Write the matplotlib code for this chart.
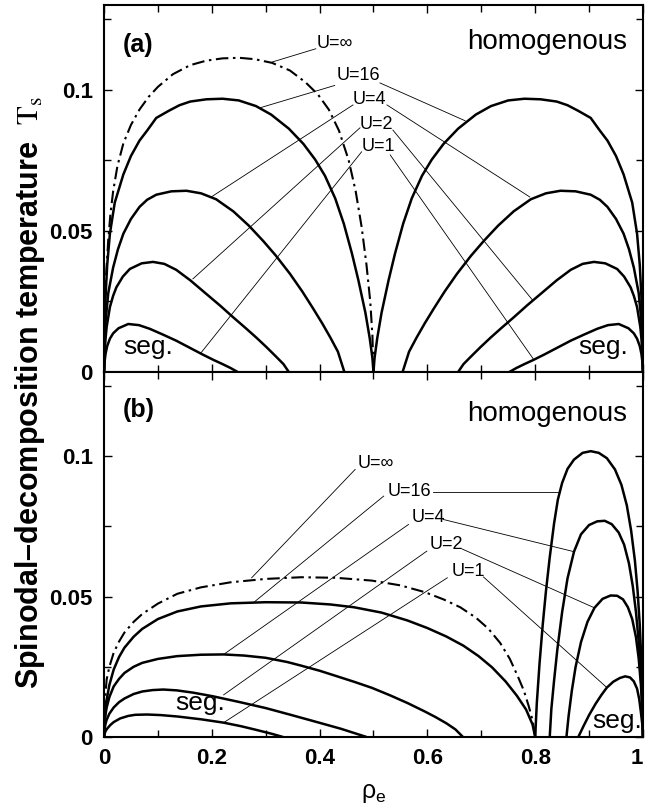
import matplotlib
matplotlib.use("Agg")
import matplotlib.pyplot as plt
from matplotlib.ticker import FixedLocator, FixedFormatter

plt.rcParams['font.family'] = ['Liberation Sans', 'DejaVu Sans']
plt.rcParams['mathtext.fontset'] = 'stix'

# ---------------- data: panel (a) ----------------
a_uinf_x = [0, 0.001, 0.003, 0.008, 0.012, 0.017, 0.025, 0.036, 0.05, 0.066, 0.083, 0.1, 0.128, 0.16, 0.19, 0.22, 0.251,
            0.28, 0.312, 0.345, 0.374, 0.397, 0.417, 0.436, 0.454, 0.467, 0.478, 0.487, 0.494, 0.498, 0.5]
a_uinf_y = [0, 0.018, 0.031, 0.047, 0.056, 0.064, 0.073, 0.081, 0.0875, 0.093, 0.0975, 0.101, 0.1055, 0.1087, 0.1103, 0.1111, 0.1113,
            0.1108, 0.1095, 0.1068, 0.1026, 0.0983, 0.093, 0.0855, 0.075, 0.064, 0.0514, 0.038, 0.025, 0.013, 0]

a_u16_lx = [0, 0.001, 0.003, 0.006, 0.011, 0.02, 0.036, 0.05, 0.066, 0.08, 0.097, 0.12, 0.14, 0.16, 0.19, 0.22, 0.25,
            0.282, 0.31, 0.343, 0.37, 0.392, 0.41, 0.429, 0.445, 0.46, 0.472, 0.485, 0.493, 0.498, 0.5]
a_u16_ly = [0, 0.016, 0.027, 0.038, 0.049, 0.06, 0.070, 0.0765, 0.082, 0.0855, 0.090, 0.0925, 0.0945, 0.0958, 0.0966, 0.0968, 0.0962,
            0.0942, 0.0912, 0.0862, 0.0808, 0.0752, 0.0695, 0.0615, 0.0525, 0.042, 0.0325, 0.021, 0.012, 0.005, 0]
a_u16_rx = [0.5, 0.502, 0.507, 0.515, 0.528, 0.54, 0.555, 0.571, 0.59, 0.608, 0.63, 0.657, 0.69, 0.718, 0.75, 0.78,
            0.81, 0.84, 0.86, 0.88, 0.903, 0.92, 0.934, 0.95, 0.964, 0.98, 0.989, 0.994, 0.997, 0.999, 1.0]
a_u16_ry = [0, 0.005, 0.012, 0.021, 0.0325, 0.042, 0.0525, 0.0615, 0.0695, 0.0752, 0.0808, 0.0862, 0.0912, 0.0942, 0.0962, 0.0968,
            0.0966, 0.0958, 0.0945, 0.0925, 0.090, 0.0855, 0.082, 0.0765, 0.070, 0.06, 0.049, 0.038, 0.027, 0.016, 0]

a_u4_lx = [0, 0.001, 0.003, 0.008, 0.017, 0.026, 0.036, 0.05, 0.066, 0.08, 0.097, 0.125, 0.153, 0.18, 0.208, 0.24,
           0.269, 0.295, 0.319, 0.345, 0.368, 0.388, 0.405, 0.42, 0.434, 0.446]
a_u4_ly = [0, 0.010, 0.018, 0.028, 0.037, 0.0435, 0.049, 0.0542, 0.0585, 0.061, 0.0628, 0.064, 0.0642, 0.0633, 0.0612, 0.0569,
           0.0518, 0.0465, 0.0412, 0.0348, 0.0285, 0.0225, 0.0172, 0.0122, 0.0072, 0]
a_u4_rx = [0.554, 0.566, 0.58, 0.595, 0.612, 0.632, 0.655, 0.681, 0.705, 0.731, 0.76, 0.792, 0.82, 0.847, 0.875, 0.903,
           0.92, 0.934, 0.95, 0.964, 0.974, 0.983, 0.992, 0.997, 0.999, 1.0]
a_u4_ry = [0, 0.0072, 0.0122, 0.0172, 0.0225, 0.0285, 0.0348, 0.0412, 0.0465, 0.0518, 0.0569, 0.0612, 0.0633, 0.0642, 0.064, 0.0628,
           0.061, 0.0585, 0.0542, 0.049, 0.0435, 0.037, 0.028, 0.018, 0.010, 0]

a_u2_lx = [0, 0.001, 0.003, 0.005, 0.011, 0.017, 0.023, 0.035, 0.048, 0.07, 0.091, 0.112, 0.134, 0.16, 0.189, 0.215,
           0.239, 0.262, 0.282, 0.301, 0.319, 0.333, 0.343]
a_u2_ly = [0, 0.0065, 0.012, 0.016, 0.023, 0.027, 0.030, 0.0338, 0.0365, 0.0385, 0.039, 0.0383, 0.0362, 0.0325, 0.0278, 0.0236,
           0.0195, 0.0157, 0.0123, 0.0089, 0.0055, 0.0028, 0]
a_u2_rx = [0.657, 0.667, 0.681, 0.699, 0.718, 0.738, 0.761, 0.785, 0.811, 0.84, 0.866, 0.888, 0.909, 0.93, 0.952, 0.965,
           0.977, 0.983, 0.989, 0.995, 0.997, 0.999, 1.0]
a_u2_ry = [0, 0.0028, 0.0055, 0.0089, 0.0123, 0.0157, 0.0195, 0.0236, 0.0278, 0.0325, 0.0362, 0.0383, 0.039, 0.0385, 0.0365, 0.0338,
           0.030, 0.027, 0.023, 0.016, 0.012, 0.0065, 0]

a_u1_lx = [0, 0.001, 0.003, 0.006, 0.011, 0.017, 0.027, 0.045, 0.065, 0.085, 0.11, 0.134, 0.16, 0.183, 0.203, 0.22, 0.235, 0.248]
a_u1_ly = [0, 0.0035, 0.0065, 0.0092, 0.0118, 0.0137, 0.0155, 0.017, 0.0166, 0.0153, 0.0132, 0.0111, 0.0085, 0.0062, 0.0043, 0.0028, 0.0014, 0]
a_u1_rx = [0.752, 0.765, 0.78, 0.797, 0.817, 0.84, 0.866, 0.89, 0.915, 0.935, 0.955, 0.973, 0.983, 0.989, 0.994, 0.997, 0.999, 1.0]
a_u1_ry = [0, 0.0014, 0.0028, 0.0043, 0.0062, 0.0085, 0.0111, 0.0132, 0.0153, 0.0166, 0.017, 0.0155, 0.0137, 0.0118, 0.0092, 0.0065, 0.0035, 0]

# ---------------- data: panel (b) ----------------
b_uinf_x = [0, 0.001, 0.003, 0.005, 0.01, 0.018, 0.028, 0.038, 0.055, 0.071, 0.1, 0.136, 0.18, 0.235, 0.3, 0.366, 0.43,
            0.497, 0.55, 0.595, 0.63, 0.661, 0.69, 0.713, 0.735, 0.753, 0.768, 0.779, 0.788, 0.795, 0.8]
b_uinf_y = [0, 0.009, 0.016, 0.0205, 0.025, 0.030, 0.034, 0.0372, 0.041, 0.0438, 0.0475, 0.051, 0.0533, 0.0551, 0.0563, 0.0569, 0.0567,
            0.0557, 0.054, 0.0516, 0.049, 0.0462, 0.0425, 0.0386, 0.0335, 0.0278, 0.0215, 0.0165, 0.011, 0.006, 0]

b_u16_lx = [0, 0.001, 0.003, 0.005, 0.01, 0.018, 0.028, 0.038, 0.055, 0.071, 0.1, 0.136, 0.18, 0.235, 0.3, 0.366, 0.42,
            0.464, 0.515, 0.563, 0.6, 0.635, 0.667, 0.695, 0.72, 0.745, 0.766, 0.783, 0.795, 0.8]
b_u16_ly = [0, 0.0055, 0.0105, 0.0133, 0.0185, 0.024, 0.0285, 0.0318, 0.0357, 0.0385, 0.042, 0.0447, 0.0465, 0.0476, 0.048, 0.0479, 0.0472,
            0.0462, 0.0443, 0.0415, 0.0388, 0.0358, 0.0325, 0.0288, 0.0248, 0.0198, 0.0147, 0.0098, 0.0045, 0]
b_u16_rx = [0.8, 0.803, 0.808, 0.814, 0.82, 0.827, 0.835, 0.842, 0.85, 0.86, 0.872, 0.888, 0.903, 0.918, 0.933, 0.948,
            0.96, 0.97, 0.978, 0.985, 0.99, 0.994, 0.997, 0.999, 1.0]
b_u16_ry = [0, 0.012, 0.026, 0.040, 0.052, 0.064, 0.076, 0.0845, 0.0905, 0.0955, 0.0988, 0.1012, 0.1018, 0.1012, 0.0993, 0.0953,
            0.0898, 0.0825, 0.0735, 0.0628, 0.052, 0.040, 0.027, 0.014, 0]

b_u4_lx = [0, 0.001, 0.003, 0.005, 0.01, 0.018, 0.028, 0.038, 0.055, 0.071, 0.1, 0.136, 0.18, 0.222, 0.26, 0.3, 0.34,
           0.366, 0.4, 0.431, 0.465, 0.497, 0.53, 0.563, 0.595, 0.615, 0.635, 0.652, 0.666]
b_u4_ly = [0, 0.0045, 0.0082, 0.0105, 0.0142, 0.018, 0.0207, 0.0228, 0.025, 0.0264, 0.0278, 0.0288, 0.0293, 0.0294, 0.029, 0.0282, 0.0267,
           0.0254, 0.0236, 0.0217, 0.0196, 0.0175, 0.0149, 0.0121, 0.0091, 0.0071, 0.0049, 0.0027, 0]
b_u4_rx = [0.827, 0.83, 0.835, 0.841, 0.85, 0.86, 0.872, 0.885, 0.9, 0.915, 0.929, 0.942, 0.955, 0.965, 0.974, 0.981,
           0.987, 0.992, 0.996, 0.999, 1.0]
b_u4_ry = [0, 0.010, 0.020, 0.031, 0.0445, 0.0565, 0.066, 0.0722, 0.0755, 0.0768, 0.077, 0.0758, 0.0728, 0.0685, 0.0618, 0.0538,
           0.0445, 0.034, 0.022, 0.010, 0]

b_u2_lx = [0, 0.001, 0.003, 0.005, 0.01, 0.018, 0.028, 0.038, 0.055, 0.071, 0.09, 0.11, 0.135, 0.165, 0.202, 0.25, 0.3,
           0.35, 0.399, 0.44, 0.487]
b_u2_ly = [0, 0.0028, 0.0048, 0.0061, 0.0083, 0.0105, 0.0124, 0.0137, 0.0153, 0.0162, 0.0167, 0.0169, 0.0166, 0.0158, 0.0145, 0.0125, 0.0103,
           0.0077, 0.0051, 0.0029, 0]
b_u2_rx = [0.858, 0.862, 0.868, 0.875, 0.885, 0.897, 0.91, 0.925, 0.94, 0.952, 0.963, 0.972, 0.98, 0.987, 0.992, 0.996, 0.999, 1.0]
b_u2_ry = [0, 0.0075, 0.0165, 0.025, 0.0338, 0.041, 0.046, 0.0492, 0.0504, 0.0503, 0.049, 0.0462, 0.042, 0.0355, 0.028, 0.019, 0.009, 0]

b_u1_lx = [0, 0.001, 0.003, 0.006, 0.012, 0.018, 0.03, 0.045, 0.058, 0.08, 0.105, 0.136, 0.18, 0.222, 0.255, 0.281, 0.31, 0.332]
b_u1_ly = [0, 0.0011, 0.0021, 0.003, 0.0043, 0.0053, 0.0066, 0.0075, 0.0079, 0.008, 0.0078, 0.0073, 0.0063, 0.0051, 0.0038, 0.0026, 0.0012, 0]
b_u1_rx = [0.88, 0.89, 0.9, 0.912, 0.923, 0.933, 0.945, 0.957, 0.967, 0.976, 0.983, 0.989, 0.993, 0.996, 0.999, 1.0]
b_u1_ry = [0, 0.004, 0.0078, 0.0118, 0.015, 0.0176, 0.0197, 0.021, 0.0216, 0.0212, 0.0198, 0.0172, 0.0135, 0.009, 0.004, 0]

# curve labels and leader lines
labels_a = ["U=\u221e", "U=16", "U=4", "U=2", "U=1"]
labels_a_x = [0.395, 0.432, 0.462, 0.475, 0.478]
labels_a_y = [0.1164, 0.1050, 0.0965, 0.0877, 0.0800]
leaders_a = [
    [(0.393, 0.1145), (0.312, 0.1098)],
    [(0.428, 0.1015), (0.288, 0.0935)], [(0.512, 0.1024), (0.67, 0.0890)],
    [(0.462, 0.0946), (0.199, 0.0620)], [(0.525, 0.0946), (0.79, 0.0620)],
    [(0.475, 0.0865), (0.165, 0.0330)], [(0.536, 0.0857), (0.795, 0.0255)],
    [(0.478, 0.0780), (0.180, 0.0068)], [(0.531, 0.0769), (0.797, 0.0045)],
]

labels_b = ["U=\u221e", "U=16", "U=4", "U=2", "U=1"]
labels_b_x = [0.470, 0.527, 0.571, 0.605, 0.645]
labels_b_y = [0.0975, 0.0874, 0.0780, 0.0684, 0.0589]
leaders_b = [
    [(0.466, 0.0953), (0.274, 0.0567)],
    [(0.519, 0.0858), (0.277, 0.0478)], [(0.610, 0.0874), (0.846, 0.0874)],
    [(0.565, 0.0757), (0.222, 0.0294)], [(0.629, 0.0775), (0.872, 0.0660)],
    [(0.599, 0.0662), (0.222, 0.0150)], [(0.664, 0.0670), (0.910, 0.0460)],
    [(0.637, 0.0567), (0.222, 0.0051)], [(0.704, 0.0570), (0.933, 0.0176)],
]

xticks = [0, 0.2, 0.4, 0.6, 0.8, 1.0]
xtick_labels = ["0", "0.2", "0.4", "0.6", "0.8", "1"]
yticks = [0, 0.05, 0.1]
ytick_labels = ["0", "0.05", "0.1"]

# ---------------- figure ----------------
fig = plt.figure(figsize=(6.47, 8.08), dpi=100)
ax1 = fig.add_axes([0.1607, 0.5396, 0.8331, 0.4542])
ax2 = fig.add_axes([0.1607, 0.0879, 0.8331, 0.4517])

LW = 1.8
DASH = dict(color='black', lw=1.5, dashes=(6.0, 2.2, 1.2, 2.2))
THIN = dict(color='black', lw=0.6)

def style(ax, show_x):
    ax.set_xlim(0, 1)
    ax.set_ylim(0, 0.13)
    ax.xaxis.set_major_locator(FixedLocator(xticks))
    ax.xaxis.set_minor_locator(FixedLocator([0.1, 0.3, 0.5, 0.7, 0.9]))
    ax.yaxis.set_major_locator(FixedLocator(yticks))
    ax.yaxis.set_minor_locator(FixedLocator([0.025, 0.075, 0.125]))
    ax.yaxis.set_major_formatter(FixedFormatter(ytick_labels))
    if show_x:
        ax.xaxis.set_major_formatter(FixedFormatter(xtick_labels))
    else:
        ax.set_xticklabels([])
    ax.tick_params(which='both', direction='in', top=True, right=True,
                   width=1.0, labelsize=16, pad=8)
    ax.tick_params(which='major', length=6)
    ax.tick_params(which='minor', length=5)
    for lab in ax.get_xticklabels() + ax.get_yticklabels():
        lab.set_fontweight('bold')
    if show_x:
        ax.get_xticklabels()[-1].set_horizontalalignment('right')
    for s in ax.spines.values():
        s.set_linewidth(1.5)

def draw(ax, dash, solids, leaders, labels, lx, ly):
    ax.plot(dash[0], dash[1], **DASH)
    for xs, ys in solids:
        ax.plot(xs, ys, color='black', lw=LW, solid_joinstyle='round', solid_capstyle='round')
    for seg in leaders:
        ax.plot([seg[0][0], seg[1][0]], [seg[0][1], seg[1][1]], **THIN)
    for t, x, y in zip(labels, lx, ly):
        ax.text(x, y, t, fontsize=13, ha='left', va='center')

draw(ax1, (a_uinf_x, a_uinf_y),
     [(a_u16_lx, a_u16_ly), (a_u16_rx, a_u16_ry), (a_u4_lx, a_u4_ly), (a_u4_rx, a_u4_ry),
      (a_u2_lx, a_u2_ly), (a_u2_rx, a_u2_ry), (a_u1_lx, a_u1_ly), (a_u1_rx, a_u1_ry)],
     leaders_a, labels_a, labels_a_x, labels_a_y)
ax1.text(0.063, 0.1158, "(a)", fontsize=18, fontweight='bold', ha='center', va='center')
ax1.text(0.97, 0.1145, "homogenous", fontsize=20, ha='right', va='baseline')
ax1.text(0.035, 0.0065, "seg.", fontsize=19, ha='left', va='baseline')
ax1.text(0.972, 0.0065, "seg.", fontsize=19, ha='right', va='baseline')
style(ax1, False)

draw(ax2, (b_uinf_x, b_uinf_y),
     [(b_u16_lx, b_u16_ly), (b_u16_rx, b_u16_ry), (b_u4_lx, b_u4_ly), (b_u4_rx, b_u4_ry),
      (b_u2_lx, b_u2_ly), (b_u2_rx, b_u2_ry), (b_u1_lx, b_u1_ly), (b_u1_rx, b_u1_ry)],
     leaders_b, labels_b, labels_b_x, labels_b_y)
ax2.text(0.065, 0.1164, "(b)", fontsize=18, fontweight='bold', ha='center', va='center')
ax2.text(0.97, 0.1125, "homogenous", fontsize=20, ha='right', va='baseline')
ax2.text(0.133, 0.0095, "seg.", fontsize=19, ha='left', va='baseline')
ax2.text(0.998, 0.0032, "seg.", fontsize=19, ha='right', va='baseline')
style(ax2, True)

fig.text(0.046, 0.514, "Spinodal\u2013decomposition temperature  $\\mathrm{T}_{\\mathrm{s}}$",
         rotation=90, fontsize=22, fontweight='bold', ha='center', va='center')
fig.text(0.577, 0.0186, "$\\mathregular{\u03c1_e}$", fontsize=18, ha='center', va='center')

fig.savefig("out.png", dpi=100)
